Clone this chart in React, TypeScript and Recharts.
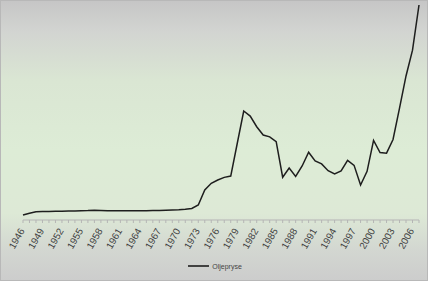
import React from "react";
import { LineChart, Line, XAxis, YAxis, Legend } from "recharts";

const years: string[] = [
  "1946","1947","1948","1949","1950","1951","1952","1953","1954","1955",
  "1956","1957","1958","1959","1960","1961","1962","1963","1964","1965",
  "1966","1967","1968","1969","1970","1971","1972","1973","1974","1975",
  "1976","1977","1978","1979","1980","1981","1982","1983","1984","1985",
  "1986","1987","1988","1989","1990","1991","1992","1993","1994","1995",
  "1996","1997","1998","1999","2000","2001","2002","2003","2004","2005",
  "2006","2007",
];

const oilPrice: number[] = [
  1.68, 2.26, 2.79, 2.86, 2.9, 2.93, 2.96, 3.03, 3.03, 3.1,
  3.16, 3.3, 3.23, 3.13, 3.1, 3.1, 3.1, 3.1, 3.1, 3.1,
  3.16, 3.2, 3.27, 3.37, 3.43, 3.6, 3.87, 5.05, 10.1, 12.36,
  13.47, 14.36, 14.8, 25.76, 36.7, 35.0, 31.4, 28.6, 28.0, 26.4,
  14.4, 17.5, 14.7, 18.2, 22.8, 19.9, 18.9, 16.6, 15.5, 16.5,
  20.1, 18.4, 11.8, 16.4, 26.8, 22.7, 22.5, 27.1, 37.7, 48.5,
  57.2, 72.4,
];

const seriesName = "Oljepryse";

const data = years.map((y, i) => ({ year: y, value: oilPrice[i] }));

const YearTick = (props: any) => {
  const { x, y, payload, index } = props;
  if (index % 3 !== 0) return <g />;
  return (
    <text
      x={x - 1}
      y={y + 4}
      transform={`rotate(-60, ${x - 1}, ${y + 4})`}
      textAnchor="end"
      dominantBaseline="central"
      fontSize={9.8}
      fill="#404040"
      fontFamily="Liberation Sans, Arial, sans-serif"
    >
      {payload.value}
    </text>
  );
};

const LegendContent = (props: any) => {
  const items = props.payload || [];
  return (
    <div style={{ display: "flex", justifyContent: "center", paddingRight: 12 }}>
      {items.map((it: any) => (
        <div key={it.value} style={{ display: "flex", alignItems: "center" }}>
          <svg width={21} height={8} style={{ marginRight: 3 }}>
            <line x1={0} y1={4} x2={21} y2={4} stroke={it.color} strokeWidth={1.6} />
          </svg>
          <span style={{ fontSize: 7, color: "#444" }}>{it.value}</span>
        </div>
      ))}
    </div>
  );
};

export default function App() {
  return (
    <div
      style={{
        position: "absolute",
        left: 0,
        top: 0,
        width: 428,
        height: 281,
        boxSizing: "border-box",
        border: "1px solid #b8b8b8",
        background:
          "linear-gradient(to bottom, #c6c6c6 0px, #d2d4d1 30px, #dae6d3 80px, #ddecd6 150px, #dde9d6 212px, #d3d7d1 248px, #cccccc 281px)",
        fontFamily: "Liberation Sans, Arial, sans-serif",
      }}
    >
      <LineChart
        width={426}
        height={279}
        data={data}
        margin={{ top: 4, right: 8, left: 22, bottom: 4 }}
      >
        <YAxis hide domain={[0, 72.4]} />
        <XAxis
          dataKey="year"
          interval={0}
          height={42}
          tick={<YearTick />}
          tickSize={3}
          axisLine={{ stroke: "#b5b5b5" }}
          tickLine={{ stroke: "#b5b5b5" }}
        />
        <Legend verticalAlign="bottom" height={14} content={<LegendContent />} />
        <Line
          type="linear"
          dataKey="value"
          name={seriesName}
          stroke="#1e1e1e"
          strokeWidth={1.5}
          dot={false}
          isAnimationActive={false}
        />
      </LineChart>
    </div>
  );
}
